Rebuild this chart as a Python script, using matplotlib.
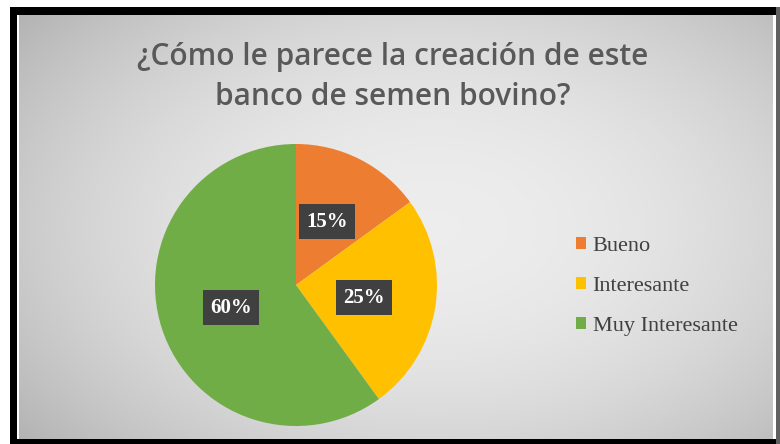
import numpy as np
import matplotlib
matplotlib.use("Agg")
import matplotlib.pyplot as plt
from matplotlib.patches import Rectangle

categories = ["Bueno", "Interesante", "Muy Interesante"]
values = [15, 25, 60]
labels = ["15%", "25%", "60%"]
colors = ["#ED7D31", "#FFC000", "#70AD47"]
title = "¿Cómo le parece la creación de este\nbanco de semen bovino?"

W, H = 780, 444
fig = plt.figure(figsize=(W / 100, H / 100), dpi=100)
fig.patch.set_facecolor("white")

# background gradient panel and frame
bg = fig.add_axes([0, 0, 1, 1])
bg.set_xlim(0, W)
bg.set_ylim(H, 0)
bg.axis("off")
x0, x1, y0, y1 = 19, 773, 16, 439
xx, yy = np.meshgrid(np.linspace(-1, 1, 400), np.linspace(-1, 1, 240))
r = np.sqrt(((xx - 0.1) * 0.9) ** 2 + (yy * 0.8) ** 2)
grad = 0.93 - 0.14 * np.clip(r, 0, 1.3) ** 2
img = np.dstack([grad, grad, grad])
bg.imshow(img, extent=[x0, x1, y1, y0], aspect="auto", interpolation="bilinear")
bg.add_patch(Rectangle((10, 7), 7, 437, facecolor="black", edgecolor="none"))
bg.add_patch(Rectangle((10, 7), 770, 8, facecolor="black", edgecolor="none"))
bg.add_patch(Rectangle((10, 439), 770, 5, facecolor="black", edgecolor="none"))
bg.add_patch(Rectangle((776, 7), 4, 437, facecolor="#606060", edgecolor="none"))

# title
fig.text(393 / W, 1 - 77 / H, title, ha="center", va="center",
         fontsize=21.5, fontweight="semibold", family="Open Sans",
         color="#595959", linespacing=1.42)

# pie
cx, cy, rad = 296, 285, 141
ax = fig.add_axes([(cx - rad) / W, 1 - (cy + rad) / H, 2 * rad / W, 2 * rad / H])
ax.set_facecolor("none")
wedges, _ = ax.pie(values, colors=colors, startangle=90, counterclock=False,
                   wedgeprops=dict(linewidth=0))
ax.set_xlim(-1, 1)
ax.set_ylim(-1, 1)
ax.set_aspect("equal")

label_pos = [(0.22, 0.45), (0.48, -0.09), (-0.46, -0.16)]
for lab, (lx, ly) in zip(labels, label_pos):
    ax.text(lx, ly, lab, ha="center", va="center", color="white",
            fontsize=15, fontweight="bold", family="Liberation Serif",
            bbox=dict(boxstyle="square,pad=0.35", facecolor="#404040",
                      edgecolor="none"))

# legend
leg = fig.legend(wedges, categories, loc="upper left",
                 bbox_to_anchor=(556 / W, 1 - 217 / H), frameon=False,
                 prop=dict(family="Liberation Serif", size=16),
                 labelspacing=0.95, handlelength=0.45, handleheight=0.45,
                 handletextpad=0.3, labelcolor="#404040")

fig.savefig("out.png", dpi=100)
